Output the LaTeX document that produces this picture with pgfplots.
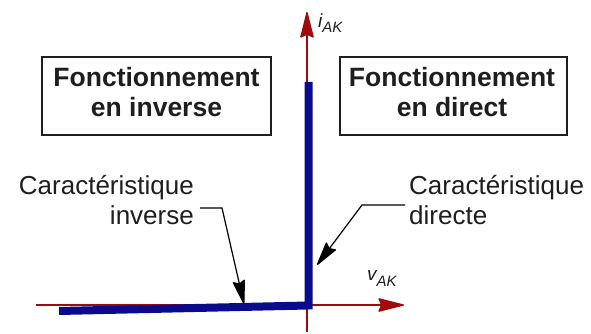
\documentclass[border=0pt]{standalone}
\usepackage{pgfplots}
\pgfplotsset{compat=1.18}
\usepackage{fontspec}
\setmainfont{Liberation Sans}
\usetikzlibrary{arrows.meta}
\definecolor{axred}{RGB}{160,10,15}
\definecolor{curveblue}{RGB}{10,10,140}
\definecolor{txt}{RGB}{30,30,30}
\begin{document}
\begin{tikzpicture}
\begin{axis}[
  scale only axis, width=591pt, height=334pt,
  xmin=-307, xmax=284, ymin=-29, ymax=305,
  hide axis, clip=false,
]
\path (rel axis cs:0,0) rectangle (rel axis cs:1,1);
% axes
\draw[axred, line width=1.3pt, -{Stealth[length=28pt,width=14pt,inset=3pt,round]}] (axis cs:-271,0) -- (axis cs:97,0);
\draw[axred, line width=1.3pt, -{Stealth[length=28pt,width=14pt,inset=3pt,round]}] (axis cs:0,-27) -- (axis cs:0,293);
% characteristic
\addplot[curveblue, line width=8pt, line join=miter] coordinates {(-248,-6) (1.5,-0.5) (1.5,223)};
% boxes
\draw[txt, line width=1.3pt] (axis cs:-265,248) rectangle (axis cs:-36,170);
\draw[txt, line width=1.3pt] (axis cs:33,248) rectangle (axis cs:260,170);
\node[anchor=base, txt, font=\fontsize{26.5}{30}\selectfont\bfseries, inner sep=0] at (axis cs:-150.5,218) {Fonctionnement};
\node[anchor=base, txt, font=\fontsize{26.5}{30}\selectfont\bfseries, inner sep=0] at (axis cs:-150.5,188) {en inverse};
\node[anchor=base, txt, font=\fontsize{26.5}{30}\selectfont\bfseries, inner sep=0] at (axis cs:145,218) {Fonctionnement};
\node[anchor=base, txt, font=\fontsize{26.5}{30}\selectfont\bfseries, inner sep=0] at (axis cs:145,188) {en direct};
% labels
\node[anchor=base east, txt, font=\fontsize{26}{30}\selectfont, inner sep=0] at (axis cs:-113,110) {Caractéristique};
\node[anchor=base east, txt, font=\fontsize{26}{30}\selectfont, inner sep=0] at (axis cs:-113,80) {inverse};
\node[anchor=base west, txt, font=\fontsize{26}{30}\selectfont, inner sep=0] at (axis cs:102,110) {Caractéristique};
\node[anchor=base west, txt, font=\fontsize{26}{30}\selectfont, inner sep=0] at (axis cs:102,80) {directe};
% leaders
\draw[black, line width=1.2pt, -{Stealth[length=26pt,width=13pt,inset=3pt,round]}] (axis cs:-107,97) -- (axis cs:-85,97) -- (axis cs:-63,1);
\draw[black, line width=1.2pt, -{Stealth[length=26pt,width=13pt,inset=3pt,round]}] (axis cs:98,100) -- (axis cs:55,100) -- (axis cs:10,40);
% axis names
\node[anchor=base west, txt, inner sep=0] at (axis cs:11,277) {\fontsize{19}{20}\selectfont\itshape i\raisebox{-5pt}{\fontsize{15}{16}\selectfont AK}};
\node[anchor=base west, txt, inner sep=0] at (axis cs:60,24) {\fontsize{19}{20}\selectfont\itshape v\raisebox{-6pt}{\fontsize{15}{16}\selectfont AK}};
\end{axis}
\end{tikzpicture}
\end{document}
